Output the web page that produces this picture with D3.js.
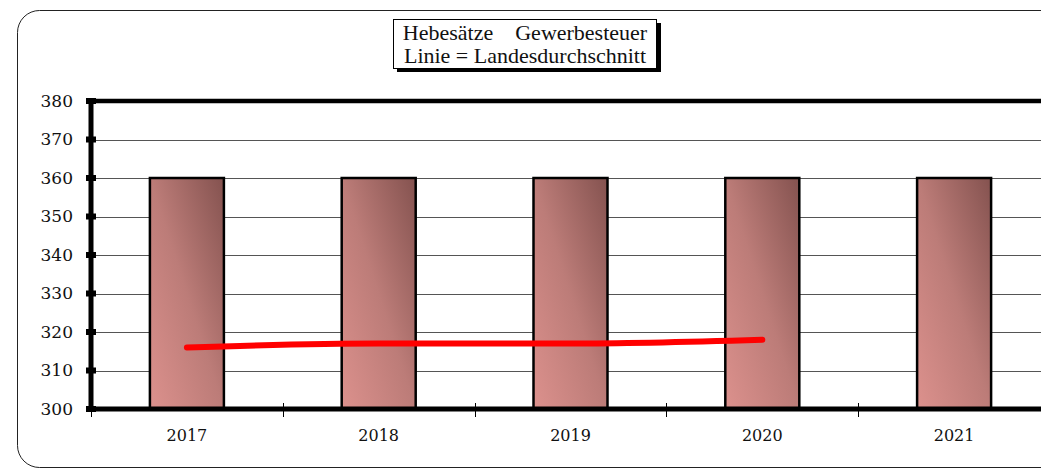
<!DOCTYPE html>
<html>
<head>
<meta charset="utf-8">
<script src="https://cdn.jsdelivr.net/npm/d3@7"></script>
<style>
  body { margin: 0; background: #fff; }
  svg { display: block; }
  .tick-label { font-family: "DejaVu Serif", "Liberation Serif", serif; fill: #111; }
  .title { font-family: "Liberation Serif", "Times New Roman", serif; fill: #111; }
</style>
</head>
<body>
<div id="chart"></div>
<script>
const years = ["2017", "2018", "2019", "2020", "2021"];
const hebesatz = [360, 360, 360, 360, 360];
const landesYears = ["2017", "2018", "2019", "2020"];
const landesschnitt = [316, 317, 317, 318];
const yTicks = [300, 310, 320, 330, 340, 350, 360, 370, 380];

const width = 1041, height = 470;
const margin = {top: 101, left: 91, bottom: 61, right: -9};

const svg = d3.select("#chart").append("svg")
    .attr("width", width)
    .attr("height", height);

const defs = svg.append("defs");
const grad = defs.append("linearGradient")
    .attr("id", "barGrad")
    .attr("x1", "0%").attr("y1", "100%")
    .attr("x2", "100%").attr("y2", "0%");
grad.append("stop").attr("offset", "0%").attr("stop-color", "#dc918d");
grad.append("stop").attr("offset", "50%").attr("stop-color", "#bc7c78");
grad.append("stop").attr("offset", "100%").attr("stop-color", "#84524f");

// outer frame
svg.append("rect")
    .attr("x", 17.5).attr("y", 10.5)
    .attr("width", 1060).attr("height", 457)
    .attr("rx", 22)
    .attr("fill", "none")
    .attr("stroke", "#222")
    .attr("stroke-width", 1);

const xBand = d3.scaleBand()
    .domain(years)
    .range([margin.left, width - margin.right]);

const y = d3.scaleLinear()
    .domain([300, 380])
    .range([height - margin.bottom, margin.top]);

// gridlines
svg.append("g")
  .selectAll("line")
  .data(yTicks)
  .join("line")
    .attr("x1", margin.left).attr("x2", width)
    .attr("y1", d => Math.round(y(d)) + 0.5).attr("y2", d => Math.round(y(d)) + 0.5)
    .attr("stroke", "#555")
    .attr("stroke-width", 1);

// bars
svg.append("g")
  .selectAll("rect")
  .data(years)
  .join("rect")
    .attr("x", d => xBand(d) + xBand.bandwidth() / 2 - 37)
    .attr("width", 74)
    .attr("y", (d, i) => y(hebesatz[i]))
    .attr("height", (d, i) => y(300) - y(hebesatz[i]))
    .attr("fill", "url(#barGrad)")
    .attr("stroke", "#000")
    .attr("stroke-width", 2.5);

// top border
svg.append("line")
    .attr("x1", margin.left).attr("x2", width)
    .attr("y1", y(380)).attr("y2", y(380))
    .attr("stroke", "#000").attr("stroke-width", 4.5);

// x axis
const xAxis = svg.append("g");
xAxis.append("line")
    .attr("x1", margin.left).attr("x2", width)
    .attr("y1", y(300)).attr("y2", y(300))
    .attr("stroke", "#000").attr("stroke-width", 5);
xAxis.selectAll(".xt")
  .data(years)
  .join("line")
    .attr("class", "xt")
    .attr("x1", d => Math.round(xBand(d)) + 0.5).attr("x2", d => Math.round(xBand(d)) + 0.5)
    .attr("y1", y(300) - 6).attr("y2", y(300) + 8)
    .attr("stroke", "#000").attr("stroke-width", 1);
xAxis.selectAll("text")
  .data(years)
  .join("text")
    .attr("class", "tick-label")
    .attr("x", d => xBand(d) + xBand.bandwidth() / 2)
    .attr("y", y(300) + 32)
    .attr("text-anchor", "middle")
    .attr("font-size", 16)
    .text(d => d);

// y axis
const yAxis = svg.append("g");
yAxis.append("line")
    .attr("x1", margin.left).attr("x2", margin.left)
    .attr("y1", y(380) - 2).attr("y2", y(300) + 2)
    .attr("stroke", "#000").attr("stroke-width", 5);
yAxis.selectAll("rect")
  .data(yTicks)
  .join("rect")
    .attr("x", margin.left - 5).attr("width", 10)
    .attr("y", d => y(d) - 3).attr("height", 6)
    .attr("fill", "#000");
yAxis.selectAll("text")
  .data(yTicks)
  .join("text")
    .attr("class", "tick-label")
    .attr("x", margin.left - 18)
    .attr("y", d => y(d))
    .attr("dy", "0.35em")
    .attr("text-anchor", "end")
    .attr("font-size", 17)
    .text(d => d);

// Landesdurchschnitt line
const line = d3.line()
    .x((d, i) => xBand(landesYears[i]) + xBand.bandwidth() / 2)
    .y(d => y(d))
    .curve(d3.curveMonotoneX);
svg.append("path")
    .datum(landesschnitt)
    .attr("d", line)
    .attr("fill", "none")
    .attr("stroke", "#ff0000")
    .attr("stroke-width", 6)
    .attr("stroke-linecap", "round");

// title box
const tb = svg.append("g").attr("transform", "translate(393,19)");
tb.append("rect").attr("x", 4).attr("y", 4).attr("width", 264).attr("height", 49).attr("fill", "#000");
tb.append("rect").attr("x", 0.5).attr("y", 0.5).attr("width", 263).attr("height", 49)
    .attr("fill", "#fff").attr("stroke", "#000").attr("stroke-width", 1);
tb.append("text")
    .attr("class", "title")
    .attr("x", 132).attr("y", 21)
    .attr("text-anchor", "middle")
    .attr("font-size", 22)
    .attr("xml:space", "preserve")
    .text("Hebesätze    Gewerbesteuer");
tb.append("text")
    .attr("class", "title")
    .attr("x", 132).attr("y", 44)
    .attr("text-anchor", "middle")
    .attr("font-size", 22)
    .text("Linie = Landesdurchschnitt");
</script>
</body>
</html>
